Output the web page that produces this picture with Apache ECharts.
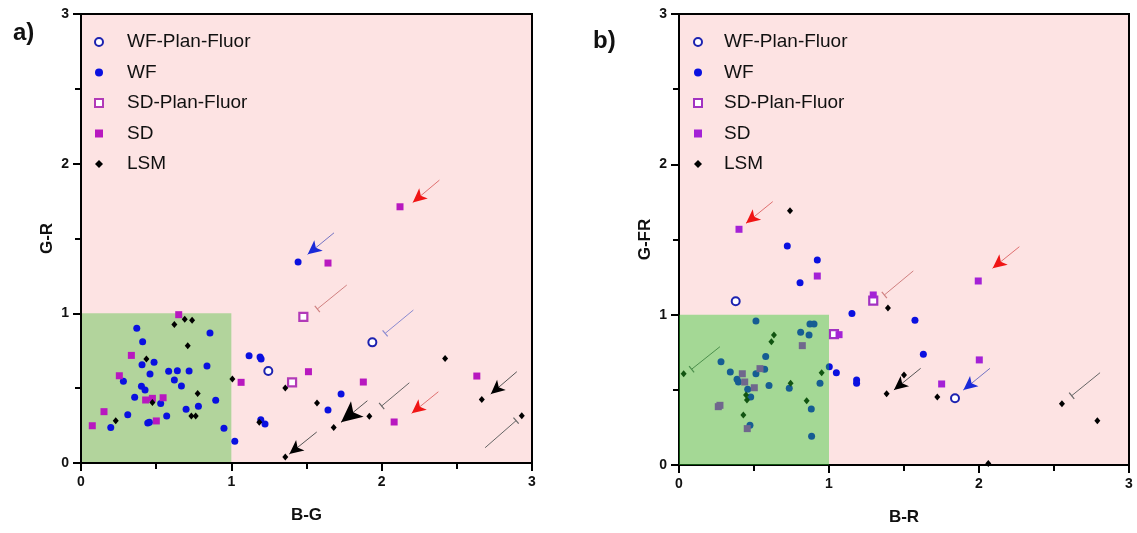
<!DOCTYPE html>
<html><head><meta charset="utf-8">
<script src="https://cdn.jsdelivr.net/npm/echarts@6/dist/echarts.min.js"></script>
<style>html,body{margin:0;padding:0;background:#fff}#c{width:1137px;height:533px}</style>
</head><body><div id="c"></div>
<script>
// ---------- data ----------
const seriesNames = ['WF-Plan-Fluor', 'WF', 'SD-Plan-Fluor', 'SD', 'LSM'];
const axisRange = [0, 3];
const panelLabels = ['a)', 'b)'];
const axisTitlesA = ['B-G', 'G-R'];
const axisTitlesB = ['B-R', 'G-FR'];
const goodZone = [[0, 0], [1, 1]];

// panel a
const aWFPlan = [[1.938,0.806],[1.246,0.615]];
const aWF = [[0.371,0.90],[0.41,0.81],[0.858,0.868],[0.486,0.673],[0.406,0.657],[0.459,0.595],[0.583,0.613],[0.641,0.617],[0.719,0.615],[0.838,0.648],[0.282,0.546],[0.621,0.554],[0.668,0.514],[0.402,0.512],[0.426,0.488],[0.357,0.439],[0.53,0.398],[0.896,0.419],[0.781,0.379],[0.699,0.359],[0.57,0.314],[0.311,0.323],[0.444,0.267],[0.455,0.272],[0.198,0.238],[0.951,0.232],[1.023,0.145],[1.444,1.343],[1.118,0.717],[1.191,0.708],[1.198,0.695],[1.73,0.461],[1.643,0.354],[1.196,0.289],[1.224,0.26]];
const aSDPlan = [[1.479,0.977],[1.404,0.539]];
const aSD = [[0.65,0.991],[0.335,0.719],[0.255,0.583],[1.065,0.539],[0.43,0.421],[0.475,0.432],[0.546,0.436],[0.153,0.343],[0.501,0.281],[0.075,0.249],[1.643,1.336],[2.122,1.712],[1.513,0.61],[1.878,0.541],[2.633,0.581],[2.083,0.274]];
const aLSM = [[0.621,0.926],[0.69,0.96],[0.739,0.953],[0.71,0.784],[0.435,0.695],[1.007,0.561],[0.776,0.465],[0.475,0.405],[0.734,0.314],[0.763,0.314],[0.231,0.283],[1.359,0.501],[1.57,0.401],[1.918,0.312],[1.681,0.238],[1.186,0.272],[1.359,0.04],[2.422,0.699],[2.666,0.425],[2.932,0.316]];
// annotations: [x1, y1, x2(tip), y2(tip)]
const aBlueArrows = [[1.683,1.538,1.508,1.394]];
const aRedArrows = [[2.384,1.89,2.207,1.741],[2.377,0.476,2.2,0.332]];
const aBlackArrows = [[1.568,0.207,1.386,0.06],[2.899,0.61,2.726,0.461]];
const aBigBlackArrows = [[1.905,0.416,1.73,0.272]];
const aPinkBars = [[1.768,1.189,1.572,1.029]];
const aBlueBars = [[2.211,1.022,2.023,0.866]];
const aGrayBars = [[2.184,0.536,2.0,0.381],[2.688,0.102,2.894,0.283]];

// panel b
const bWFPlan = [[0.378,1.089],[1.84,0.444]];
const bWF = [[0.722,1.457],[0.922,1.364],[0.807,1.213],[1.153,1.007],[1.573,0.963],[1.629,0.737],[1.002,0.654],[1.049,0.614],[1.184,0.566],[1.184,0.544],[0.513,0.958],[0.873,0.938],[0.9,0.938],[0.811,0.883],[0.867,0.865],[0.28,0.687],[0.342,0.619],[0.387,0.57],[0.396,0.552],[0.571,0.637],[0.513,0.607],[0.578,0.721],[0.458,0.504],[0.6,0.528],[0.735,0.51],[0.94,0.544],[0.478,0.452],[0.882,0.373],[0.473,0.264],[0.884,0.191]];
const bSDPlan = [[1.295,1.093],[1.033,0.87]];
const bSD = [[0.4,1.568],[0.922,1.257],[1.295,1.131],[1.067,0.867],[1.995,1.224],[2.002,0.699],[1.751,0.539],[0.822,0.794],[0.422,0.607],[0.438,0.552],[0.54,0.641],[0.502,0.514],[0.262,0.388],[0.273,0.397],[0.455,0.242]];
const bLSM = [[0.74,1.692],[1.393,1.045],[1.5,0.599],[1.384,0.474],[1.722,0.452],[2.553,0.408],[2.789,0.295],[2.062,0.01],[0.633,0.865],[0.616,0.82],[0.031,0.607],[0.744,0.544],[0.951,0.614],[0.447,0.466],[0.453,0.432],[0.851,0.428],[0.429,0.333]];
const bRedArrows = [[0.625,1.752,0.447,1.608],[2.269,1.452,2.091,1.309]];
const bBlackArrows = [[1.611,0.643,1.433,0.499]];
const bBlueArrows = [[2.073,0.643,1.896,0.499]];
const bPinkBars = [[1.562,1.291,1.369,1.131]];
const bGrayBars = [[2.807,0.614,2.618,0.461],[0.273,0.787,0.084,0.637]];

// ---------- building ----------
const FONT = "'Liberation Sans', Arial, Helvetica, sans-serif";
const BAR = 'path://M0,0H10V1H0Z';

function arrowItems(list, lineColor, headColor, headSize) {
  const out = [];
  list.forEach(([x1, y1, x2, y2]) => {
    const dx = x2 - x1, dy = y2 - y1;
    out.push([{ coord: [x1, y1], symbol: 'none', lineStyle: { color: lineColor, width: 1, type: 'solid' } },
              { coord: [x2 - dx * 0.1, y2 - dy * 0.1], symbol: 'none' }]);
    const hs = 0.03;
    out.push([{ coord: [x2 - dx * hs, y2 - dy * hs], symbol: 'none', lineStyle: { color: headColor, width: 1, type: 'solid' } },
              { coord: [x2, y2], symbol: 'arrow', symbolSize: headSize }]);
  });
  return out;
}
function barItems(list, color) {
  return list.map(([x1, y1, x2, y2]) => [
    { coord: [x1, y1], symbol: 'none', lineStyle: { color: color, width: 1, type: 'solid' } },
    { coord: [x2, y2], symbol: BAR, symbolSize: [8, 1.2] }
  ]);
}

function axis(gi, name, isX) {
  return {
    gridIndex: gi, type: 'value', min: axisRange[0], max: axisRange[1], interval: 1,
    name: name, nameLocation: 'middle', nameGap: isX ? 44 : 25,
    nameTextStyle: { fontFamily: FONT, fontWeight: 'bold', fontSize: 17, color: '#111' },
    axisLine: { show: true, onZero: false, lineStyle: { color: '#000', width: 2 } },
    axisTick: { show: true, inside: false, length: 8, lineStyle: { color: '#000', width: 2 } },
    minorTick: { show: true, splitNumber: 2, length: 6, lineStyle: { color: '#000', width: 2 } },
    splitLine: { show: false }, minorSplitLine: { show: false },
    axisLabel: { margin: 12, fontFamily: FONT, fontWeight: 'bold', fontSize: 14, color: '#111' }
  };
}

function scatterSeries(gi, suffix, wfp, wf, sdp, sd, lsm, sdColor, sdpColor) {
  const base = { type: 'scatter', xAxisIndex: gi, yAxisIndex: gi, z: 3, silent: true };
  return [
    Object.assign({}, base, { name: seriesNames[0] + suffix, data: wfp, symbol: 'circle', symbolSize: 8,
      itemStyle: { color: '#ffffff', borderColor: '#1c22b0', borderWidth: 2, opacity: 1 } }),
    Object.assign({}, base, { name: seriesNames[1] + suffix, data: wf, symbol: 'circle', symbolSize: 7,
      itemStyle: { color: '#0a10e0', opacity: 1 } }),
    Object.assign({}, base, { name: seriesNames[2] + suffix, data: sdp, symbol: 'rect', symbolSize: 8,
      itemStyle: { color: '#ffffff', borderColor: sdpColor, borderWidth: 2.2, opacity: 1 } }),
    Object.assign({}, base, { name: seriesNames[3] + suffix, data: sd, symbol: 'rect', symbolSize: 7,
      itemStyle: { color: sdColor, opacity: 1 } }),
    Object.assign({}, base, { name: seriesNames[4] + suffix, data: lsm, symbol: 'diamond', symbolSize: [6, 7],
      itemStyle: { color: '#000000', opacity: 1 } })
  ];
}

const suffixB = ' ';
const series = [];
// panel a: green zone below points
series.push({ type: 'scatter', xAxisIndex: 0, yAxisIndex: 0, data: [], z: 1, silent: true,
  markArea: { silent: true, z: 0, itemStyle: { color: '#b2d49c' },
    data: [[{ coord: goodZone[0] }, { coord: goodZone[1] }]] } });
series.push({ type: 'scatter', xAxisIndex: 0, yAxisIndex: 0, data: [], z: 2, silent: true,
  markLine: { silent: true, animation: false, label: { show: false }, symbol: ['none', 'none'],
    data: [].concat(
      arrowItems(aBlueArrows, '#7474c4', '#1a2ad8', [10, 14]),
      arrowItems(aRedArrows, '#e07070', '#f01515', [10, 14]),
      arrowItems(aBlackArrows, '#555555', '#000000', [10, 14]),
      arrowItems(aBigBlackArrows, '#555555', '#000000', [15, 21]),
      barItems(aPinkBars, '#d08080'),
      barItems(aBlueBars, '#8a8ad0'),
      barItems(aGrayBars, '#666666')) } });
series.push(...scatterSeries(0, '', aWFPlan, aWF, aSDPlan, aSD, aLSM, '#b818bf', '#b23ab8'));

// panel b: points, then translucent green overlay on top
series.push({ type: 'scatter', xAxisIndex: 1, yAxisIndex: 1, data: [], z: 2, silent: true,
  markLine: { silent: true, animation: false, label: { show: false }, symbol: ['none', 'none'],
    data: [].concat(
      arrowItems(bRedArrows, '#e07070', '#f01515', [10, 14]),
      arrowItems(bBlackArrows, '#555555', '#000000', [10, 14]),
      arrowItems(bBlueArrows, '#7474c4', '#1a2ad8', [10, 14]),
      barItems(bPinkBars, '#d08080'),
      barItems(bGrayBars, '#666666')) } });
series.push(...scatterSeries(1, suffixB, bWFPlan, bWF, bSDPlan, bSD, bLSM, '#a421d6', '#a232c2'));
series.push({ type: 'scatter', xAxisIndex: 1, yAxisIndex: 1, data: [], z: 10, silent: true,
  markArea: { silent: true, z: 10, itemStyle: { color: 'rgba(40,200,40,0.42)' },
    data: [[{ coord: goodZone[0] }, { coord: goodZone[1] }]] } });

function legend(left, suffix, gap) {
  return { orient: 'vertical', left: left, top: 27, itemWidth: 8, itemHeight: 8, itemGap: 10.5,
    selectedMode: false,
    formatter: n => '{g|}' + n.trim(),
    textStyle: { fontFamily: FONT, fontSize: 19, lineHeight: 20, color: '#111',
      rich: { g: { width: gap } } },
    data: seriesNames.map(n => n + suffix) };
}

const option = {
  animation: false,
  backgroundColor: '#ffffff',
  title: [
    { text: panelLabels[0], left: 8, top: 16, textStyle: { fontFamily: FONT, fontSize: 24, fontWeight: 'bold', color: '#111' } },
    { text: panelLabels[1], left: 588, top: 24, textStyle: { fontFamily: FONT, fontSize: 24, fontWeight: 'bold', color: '#111' } }
  ],
  legend: [legend(89, '', 19), legend(688, suffixB, 17)],
  grid: [
    { left: 81, top: 14, width: 451, height: 449, show: true, backgroundColor: '#fde3e3', borderColor: '#000', borderWidth: 2 },
    { left: 679, top: 14, width: 450, height: 451, show: true, backgroundColor: '#fde3e3', borderColor: '#000', borderWidth: 2 }
  ],
  xAxis: [axis(0, axisTitlesA[0], true), axis(1, axisTitlesB[0], true)],
  yAxis: [axis(0, axisTitlesA[1], false), axis(1, axisTitlesB[1], false)],
  series: series
};
const chart = echarts.init(document.getElementById('c'), null, { renderer: 'canvas' });
chart.setOption(option);
</script>
</body></html>
